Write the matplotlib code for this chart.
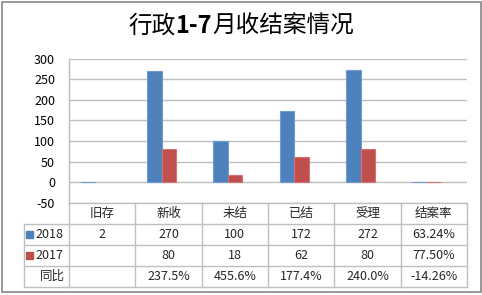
import matplotlib
matplotlib.use("Agg")
import matplotlib.pyplot as plt
from matplotlib.patches import Rectangle
import numpy as np

plt.rcParams['font.family'] = ['Noto Sans CJK SC', 'DejaVu Sans']

title_parts = ["行政", "1-7", "月收结案情况"]
title_bold = [False, True, False]
categories = ["旧存", "新收", "未结", "已结", "受理", "结案率"]
series_names = ["2018", "2017"]
values_2018 = [2, 270, 100, 172, 272, 0.6324]
values_2017 = [np.nan, 80, 18, 62, 80, 0.775]
labels_2018 = ["2", "270", "100", "172", "272", "63.24%"]
labels_2017 = ["", "80", "18", "62", "80", "77.50%"]
labels_yoy = ["", "237.5%", "455.6%", "177.4%", "240.0%", "-14.26%"]
yoy_name = "同比"
yticks = [-50, 0, 50, 100, 150, 200, 250, 300]

colors = ["#4F81BD", "#C0504D"]
edge_colors = ["#6F9BD1", "#D47370"]
W, H = 482, 295
fig = plt.figure(figsize=(W / 100, H / 100), dpi=100)

# plot area in pixel coords
L, R, T, B = 69, 467, 58.5, 203
ax = fig.add_axes([L / W, 1 - B / H, (R - L) / W, (B - T) / H])
n = len(categories)
x = np.arange(n)
bw = 0.22
shift = 0.105
ax.bar(x - bw / 2, values_2018, bw, color=colors[0], edgecolor=edge_colors[0], linewidth=0.8, zorder=3)
ax.bar(x + bw / 2, values_2017, bw, color=colors[1], edgecolor=edge_colors[1], linewidth=0.8, zorder=3)
ax.set_xlim(-0.5 + shift, n - 0.5 + shift)
ax.set_ylim(-50, 300)
ax.set_yticks(yticks)
ax.set_yticklabels([str(v) for v in yticks], fontsize=9)
ax.tick_params(axis='y', length=0, pad=10)
ax.set_xticks([])
ax.grid(axis='y', color="#BFBFBF", linewidth=1, zorder=0)
for s in ["top", "right", "bottom"]:
    ax.spines[s].set_visible(False)
ax.spines["left"].set_color("#BFBFBF")

# overlay for table and border
ov = fig.add_axes([0, 0, 1, 1], zorder=5)
ov.set_xlim(0, W)
ov.set_ylim(H, 0)
ov.axis("off")
ov.patch.set_alpha(0)

ov.add_patch(Rectangle((2, 2), 478.5, 290, fill=False, edgecolor="#868686", linewidth=1.2))

# title with bold digits, laid out piecewise
renderer = fig.canvas.get_renderer()
tfs = 17
pieces = []
for txt, bold in zip(title_parts, title_bold):
    t = ov.text(0, 26, txt, ha="left", va="center", fontsize=tfs,
                fontweight="bold" if bold else "normal")
    pieces.append(t)
widths = [p.get_window_extent(renderer).width for p in pieces]
total = sum(widths)
xs = W / 2 - total / 2
for p, w in zip(pieces, widths):
    p.set_x(xs)
    xs += w

lc = "#BFBFBF"
colw = (R - L) / n
rows_y = [203, 224, 245, 266, 287]
TL = 24
ov.plot([L, L], [T, rows_y[-1]], color=lc, lw=1)
ov.plot([L, R], [rows_y[0], rows_y[0]], color=lc, lw=1)
for yy in rows_y[1:]:
    ov.plot([TL, R], [yy, yy], color=lc, lw=1)
ov.plot([TL, TL], [rows_y[1], rows_y[-1]], color=lc, lw=1)
for i in range(1, n + 1):
    xx = L + i * colw
    ov.plot([xx, xx], [rows_y[0], rows_y[-1]], color=lc, lw=1)

fs = 9
tc = "#262626"
for i, c in enumerate(categories):
    cx = L + (i + 0.5) * colw
    ov.text(cx, (rows_y[0] + rows_y[1]) / 2, c, ha="center", va="center", fontsize=fs, color=tc)
    ov.text(cx, (rows_y[1] + rows_y[2]) / 2, labels_2018[i], ha="center", va="center", fontsize=fs, color=tc)
    ov.text(cx, (rows_y[2] + rows_y[3]) / 2, labels_2017[i], ha="center", va="center", fontsize=fs, color=tc)
    ov.text(cx, (rows_y[3] + rows_y[4]) / 2, labels_yoy[i], ha="center", va="center", fontsize=fs, color=tc)

for k, name in enumerate(series_names):
    ym = (rows_y[k + 1] + rows_y[k + 2]) / 2
    ov.add_patch(Rectangle((TL + 2, ym - 3.5), 7, 7, color=colors[k]))
    ov.text(TL + 11, ym, name, ha="left", va="center", fontsize=fs, color=tc)
ov.text(TL + 16, (rows_y[3] + rows_y[4]) / 2, yoy_name, ha="left", va="center", fontsize=fs, color=tc)

fig.savefig("out.png", dpi=100)
